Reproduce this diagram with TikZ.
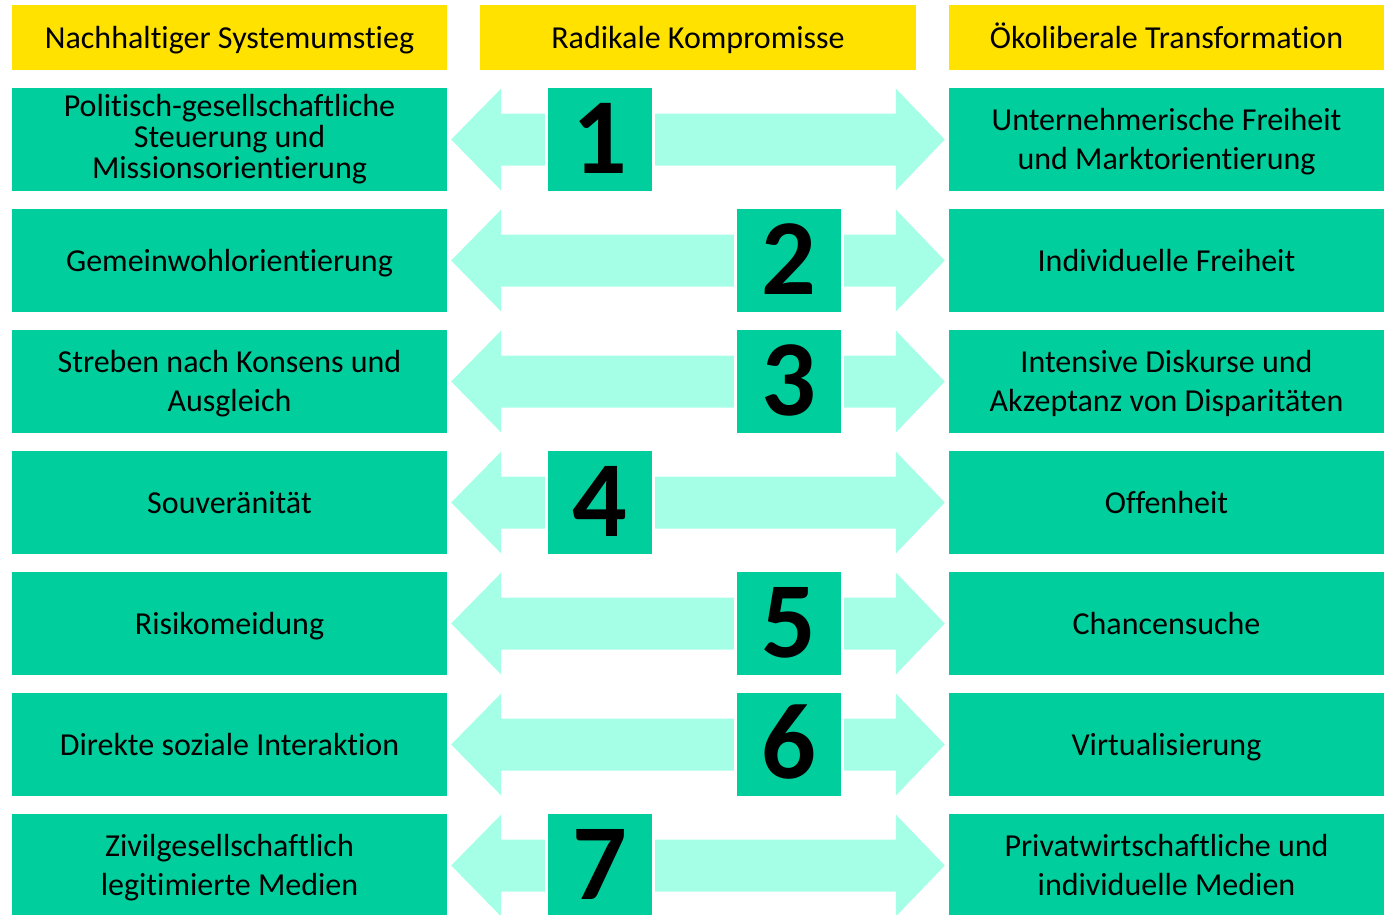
\documentclass[tikz,border=0pt]{standalone}
\usepackage{fontspec}
\setmainfont{Carlito}[Ligatures={NoCommon,NoRequired,NoContextual}]
\usepackage{xcolor}
\usetikzlibrary{calc}

\definecolor{boxgreen}{HTML}{00CF9D}
\definecolor{arrowmint}{HTML}{A5FFE7}
\definecolor{headyellow}{HTML}{FFE200}

\tikzset{
  headbox/.style={fill=headyellow, inner sep=0pt, minimum width=435, minimum height=65,
    text height=22pt, text depth=0pt, font=\fontsize{32}{38.5}\selectfont},
  sidebox/.style={fill=boxgreen, inner sep=0pt, minimum width=435, minimum height=103,
    align=center, font=\fontsize{32}{38.5}\selectfont},
  oneline/.style={text height=22pt, text depth=0pt},
  twoline/.style={text height=59pt, text depth=0pt},
  numbox/.style={fill=boxgreen, draw=white, line width=3pt, inner sep=0pt,
    minimum width=107, minimum height=106, text height=68pt, text depth=0pt,
    font=\fontsize{108}{108}\selectfont\bfseries},
  arrowfill/.style={fill=arrowmint}
}

\begin{document}
\begin{tikzpicture}[x=1pt, y=-1pt]
\useasboundingbox (0,0) rectangle (1384,914);

% Column headers
\node[headbox] (H1) at (229.5,37.5) {Nachhaltiger Systemumstieg};
\node[headbox, minimum width=436] (H2) at (698,37.5) {Radikale Kompromisse};
\node[headbox] (H3) at (1166.5,37.5) {Ökoliberale Transformation};

% Left column
\node[sidebox, font=\fontsize{32}{31}\selectfont] (L1) at (229.5,139.5) {Politisch-gesellschaftliche\\Steuerung und\\Missionsorientierung};
\node[sidebox, oneline] (L2) at (229.5,260.5) {Gemeinwohlorientierung};
\node[sidebox, twoline] (L3) at (229.5,381.5) {Streben nach Konsens und\\Ausgleich};
\node[sidebox, oneline] (L4) at (229.5,502.5) {Souveränität};
\node[sidebox, oneline] (L5) at (229.5,623.5) {Risikomeidung};
\node[sidebox, oneline] (L6) at (229.5,744.5) {Direkte soziale Interaktion};
\node[sidebox, twoline] (L7) at (229.5,865.5) {Zivilgesellschaftlich\\legitimierte Medien};

% Right column
\node[sidebox, twoline] (R1) at (1166.5,139.5) {Unternehmerische Freiheit\\und Marktorientierung};
\node[sidebox, oneline] (R2) at (1166.5,260.5) {Individuelle Freiheit};
\node[sidebox, twoline] (R3) at (1166.5,381.5) {Intensive Diskurse und\\Akzeptanz von Disparitäten};
\node[sidebox, oneline] (R4) at (1166.5,502.5) {Offenheit};
\node[sidebox, oneline] (R5) at (1166.5,623.5) {Chancensuche};
\node[sidebox, oneline] (R6) at (1166.5,744.5) {Virtualisierung};
\node[sidebox, twoline] (R7) at (1166.5,865.5) {Privatwirtschaftliche und\\individuelle Medien};

% Double arrows between the columns
\fill[arrowfill] ($(L1.east)+(4,0)$) -- ++(50,-51) -- ++(0,25) -- ($(R1.west)+(-53,-26)$) -- ++(0,-25) -- ($(R1.west)+(-4,0)$) -- ++(-49,51) -- ++(0,-25) -- ($(L1.east)+(54,26)$) -- ++(0,25) -- cycle;
\fill[arrowfill] ($(L2.east)+(4,0)$) -- ++(50,-51) -- ++(0,25) -- ($(R2.west)+(-53,-26)$) -- ++(0,-25) -- ($(R2.west)+(-4,0)$) -- ++(-49,51) -- ++(0,-25) -- ($(L2.east)+(54,26)$) -- ++(0,25) -- cycle;
\fill[arrowfill] ($(L3.east)+(4,0)$) -- ++(50,-51) -- ++(0,25) -- ($(R3.west)+(-53,-26)$) -- ++(0,-25) -- ($(R3.west)+(-4,0)$) -- ++(-49,51) -- ++(0,-25) -- ($(L3.east)+(54,26)$) -- ++(0,25) -- cycle;
\fill[arrowfill] ($(L4.east)+(4,0)$) -- ++(50,-51) -- ++(0,25) -- ($(R4.west)+(-53,-26)$) -- ++(0,-25) -- ($(R4.west)+(-4,0)$) -- ++(-49,51) -- ++(0,-25) -- ($(L4.east)+(54,26)$) -- ++(0,25) -- cycle;
\fill[arrowfill] ($(L5.east)+(4,0)$) -- ++(50,-51) -- ++(0,25) -- ($(R5.west)+(-53,-26)$) -- ++(0,-25) -- ($(R5.west)+(-4,0)$) -- ++(-49,51) -- ++(0,-25) -- ($(L5.east)+(54,26)$) -- ++(0,25) -- cycle;
\fill[arrowfill] ($(L6.east)+(4,0)$) -- ++(50,-51) -- ++(0,25) -- ($(R6.west)+(-53,-26)$) -- ++(0,-25) -- ($(R6.west)+(-4,0)$) -- ++(-49,51) -- ++(0,-25) -- ($(L6.east)+(54,26)$) -- ++(0,25) -- cycle;
\fill[arrowfill] ($(L7.east)+(4,0)$) -- ++(50,-51) -- ++(0,25) -- ($(R7.west)+(-53,-26)$) -- ++(0,-25) -- ($(R7.west)+(-4,0)$) -- ++(-49,51) -- ++(0,-25) -- ($(L7.east)+(54,26)$) -- ++(0,25) -- cycle;

% Compromise numbers
\node[numbox] (N1) at (600,139.5) {1};
\node[numbox] (N2) at (789,260.5) {2};
\node[numbox] (N3) at (789,381.5) {3};
\node[numbox] (N4) at (600,502.5) {4};
\node[numbox] (N5) at (789,623.5) {5};
\node[numbox] (N6) at (789,744.5) {6};
\node[numbox] (N7) at (600,865.5) {7};
\end{tikzpicture}
\end{document}
